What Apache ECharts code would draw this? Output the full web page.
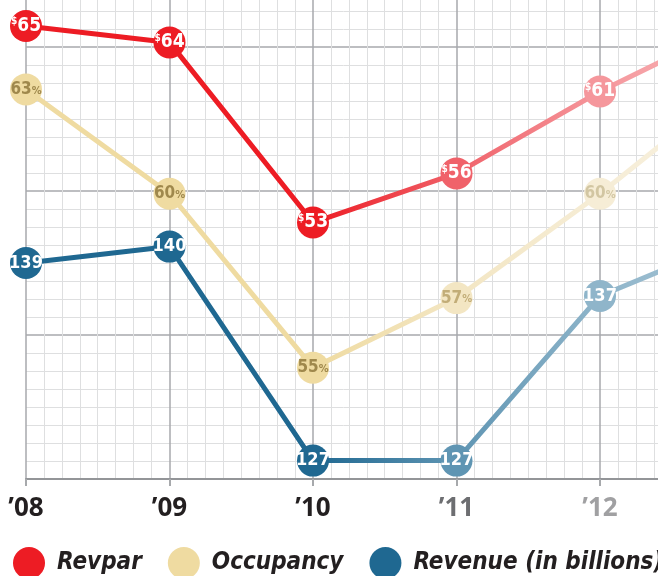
<!DOCTYPE html>
<html>
<head>
<meta charset="utf-8">
<script src="https://cdn.jsdelivr.net/npm/echarts@6/dist/echarts.min.js"></script>
<style>
html,body{margin:0;padding:0;background:#fff;width:658px;height:576px;overflow:hidden;position:relative;}
#chart{position:absolute;left:0;top:-10px;width:680px;height:586px;}
</style>
</head>
<body>
<div id="chart"></div>
<script>
// ---- data ----
const years = [2008, 2009, 2010, 2011, 2012, 2013];
const yearLabels = ['’08', '’09', '’10', '’11', '’12', '’13'];
const revpar = [65, 64, 53, 56, 61, 65.3];       // last value: continuation beyond '12 (clipped)
const occupancy = [63, 60, 55, 57, 60, 63.3];
const revenue = [139, 140, 127, 127, 137, 140.6];
const seriesNames = ['Revpar', 'Occupancy', 'Revenue (in billions)'];

// ---- styles ----
const FONT = '"Liberation Sans Narrow", "DejaVu Sans Condensed", "Open Sans", sans-serif';
const LFONT = '"Open Sans", sans-serif';
const pal = {
  revpar:    ['#ed1c24', '#ed1c24', '#ed1c24', '#f0626a', '#f5979c', '#f8b8bb'],
  occupancy: ['#efdba1', '#efdba1', '#efdba1', '#f3e6c3', '#f6edd6', '#f8f1e0'],
  revenue:   ['#1f6891', '#1f6891', '#1f6891', '#5f95b3', '#8fb5ca', '#a9c6d6']
};
const occText = ['#9f884c', '#9f884c', '#9f884c', '#c2ad78', '#d2c6a2', '#d2c6a2'];
const labelColors = ['#231f20', '#231f20', '#231f20', '#6d6e71', '#a0a0a2'];

const chart = echarts.init(document.getElementById('chart'), null, {renderer: 'canvas'});

function mkData(vals, key) {
  return vals.map((v, i) => ({
    value: [years[i], v],
    itemStyle: {color: pal[key][i]},
    label: key === 'occupancy' ? {rich: {n: {color: occText[i]}, p: {color: occText[i]}}} : undefined
  }));
}

function gradient(key, x0, x1, x2, x3) {
  const c = pal[key];
  const w = x3 - x0;
  return {
    type: 'linear', x: x0, y: 0, x2: x3, y2: 0, global: true,
    colorStops: [
      {offset: 0, color: c[2]},
      {offset: (x1 - x0) / w, color: c[3]},
      {offset: (x2 - x0) / w, color: c[4]},
      {offset: 1, color: c[5]}
    ]
  };
}

const option = {
  animation: false,
  backgroundColor: '#ffffff',
  grid: {left: 26, right: 19, top: 7, bottom: 97, containLabel: false},
  xAxis: {
    type: 'value', min: 2008, max: 2008 + 635 / 143.5, interval: 1,
    axisLine: {show: true, onZero: false, lineStyle: {color: '#939598', width: 2}},
    axisTick: {show: true, length: 7, lineStyle: {color: '#a7a9ac', width: 2}},
    axisLabel: {
      margin: 17,
      formatter: v => {
        if (Math.abs(v - Math.round(v)) > 1e-6) return '';
        const i = years.indexOf(Math.round(v));
        return i >= 0 && i < labelColors.length ? '{y' + i + '|' + yearLabels[i] + '}' : '';
      },
      rich: Object.fromEntries(labelColors.map((c, i) => ['y' + i, {
        color: c, fontFamily: LFONT, fontWeight: 'bold', fontSize: 26
      }]))
    },
    splitLine: {show: true, lineStyle: {color: '#a7a9ac', width: 1.5}},
    minorTick: {show: false, splitNumber: 8},
    minorSplitLine: {show: true, lineStyle: {color: '#dedfe0', width: 1}}
  },
  yAxis: [
    { // grid axis
      type: 'value', min: 0, max: 482 / 144, interval: 1,
      axisLine: {show: false}, axisTick: {show: false}, axisLabel: {show: false},
      splitLine: {show: true, lineStyle: {color: '#a7a9ac', width: 1.5}},
      minorTick: {show: false, splitNumber: 8},
      minorSplitLine: {show: true, lineStyle: {color: '#dedfe0', width: 1}}
    },
    {type: 'value', min: 37.34, max: 66.59 + 3 / 16.375, show: false, splitLine: {show: false}},
    {type: 'value', min: 51.80, max: 65.57 + 3 / 34.79, show: false, splitLine: {show: false}},
    {type: 'value', min: 125.88, max: 154.98 + 3 / 16.46, show: false, splitLine: {show: false}}
  ],
  legend: {
    left: 8, top: 552, width: 720,
    icon: 'circle', itemWidth: 32, itemHeight: 32, itemGap: 26,
    textStyle: {fontFamily: FONT, fontSize: 24, fontWeight: 'bold', fontStyle: 'italic', color: '#231f20', padding: [0, 0, 0, 7]},
    data: seriesNames
  },
  series: [
    {
      name: seriesNames[2], type: 'line', yAxisIndex: 3, z: 3,
      data: mkData(revenue, 'revenue'),
      symbol: 'circle', symbolSize: 32, clip: true,
      itemStyle: {color: pal.revenue[0]},
      lineStyle: {width: 5, color: pal.revenue[0]},
      label: {show: true, position: 'inside', formatter: p => '{n|' + p.value[1] + '}',
        rich: {n: {color: '#fff', fontFamily: FONT, fontWeight: 'bold', fontSize: 18}}}
    },
    {
      name: seriesNames[1], type: 'line', yAxisIndex: 2, z: 4,
      data: mkData(occupancy, 'occupancy'),
      symbol: 'circle', symbolSize: 32, clip: true,
      itemStyle: {color: pal.occupancy[0]},
      lineStyle: {width: 5, color: pal.occupancy[0]},
      label: {show: true, position: 'inside', formatter: p => '{n|' + p.value[1] + '}{p|%}',
        rich: {
          n: {fontFamily: FONT, fontWeight: 'bold', fontSize: 17},
          p: {fontFamily: FONT, fontWeight: 'bold', fontSize: 11, padding: [3, 0, 0, 0]}
        }}
    },
    {
      name: seriesNames[0], type: 'line', yAxisIndex: 1, z: 5,
      data: mkData(revpar, 'revpar'),
      symbol: 'circle', symbolSize: 32, clip: true,
      itemStyle: {color: pal.revpar[0]},
      lineStyle: {width: 5, color: pal.revpar[0]},
      label: {show: true, position: 'inside', formatter: p => '{s|$}{n|' + p.value[1] + '}',
        rich: {
          s: {color: '#fff', fontFamily: FONT, fontWeight: 'bold', fontSize: 10, verticalAlign: 'top', padding: [0, 0, 8, 0]},
          n: {color: '#fff', fontFamily: FONT, fontWeight: 'bold', fontSize: 19}
        }}
    }
  ]
};

chart.setOption(option);

// fading projection: gradient coordinates from the axis scale
const px = yr => chart.convertToPixel({xAxisIndex: 0}, yr);
const x10 = px(2010), x11 = px(2011), x12 = px(2012), x13 = px(2013);
chart.setOption({
  series: [
    {lineStyle: {color: gradient('revenue', x10, x11, x12, x13)}},
    {lineStyle: {color: gradient('occupancy', x10, x11, x12, x13)}},
    {lineStyle: {color: gradient('revpar', x10, x11, x12, x13)}}
  ]
});
</script>
</body>
</html>
